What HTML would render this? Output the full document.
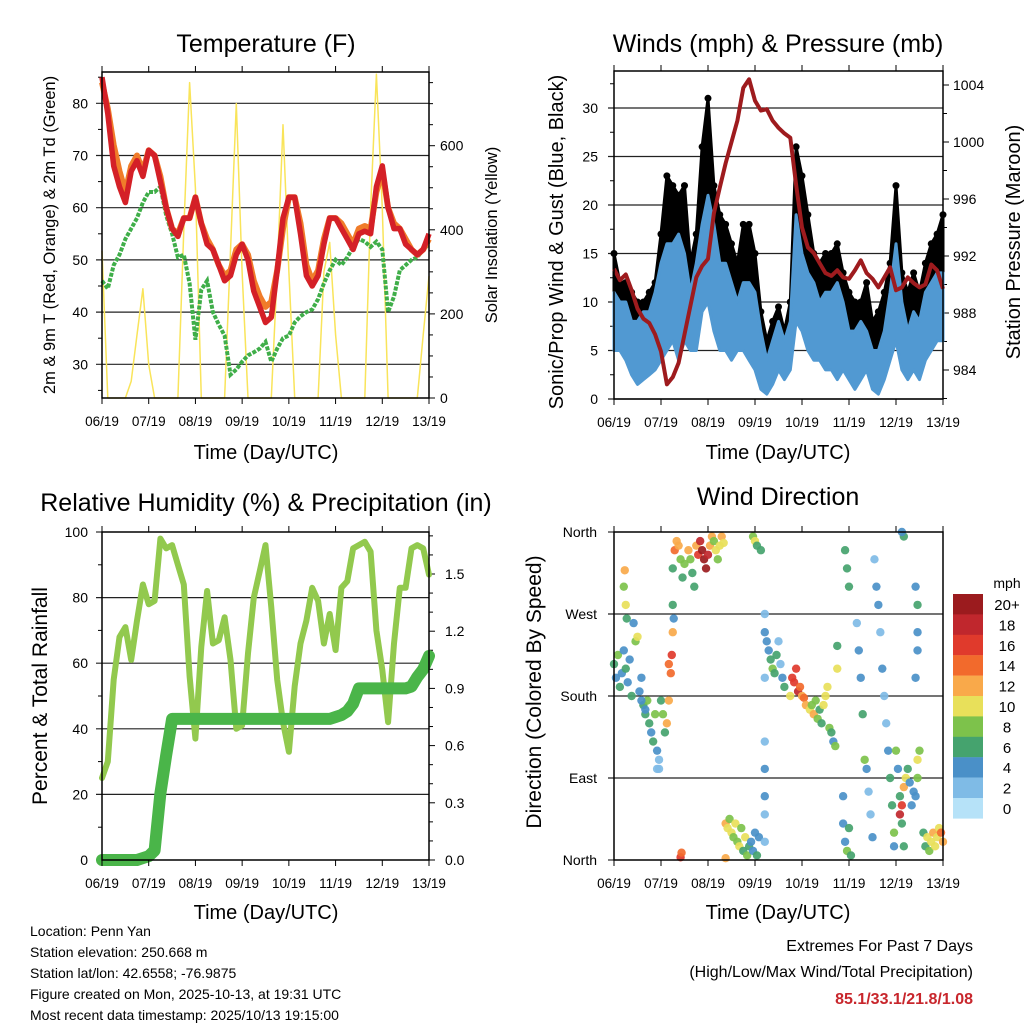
<!DOCTYPE html>
<html><head><meta charset="utf-8"><style>
html,body{margin:0;padding:0;background:#fff;}
svg{display:block;font-family:"Liberation Sans",sans-serif;}
</style></head><body>
<svg id="c" xmlns="http://www.w3.org/2000/svg" width="1024" height="1024" viewBox="0 0 1024 1024"></svg>
<script>
const dayLabels=['06/19','07/19','08/19','09/19','10/19','11/19','12/19','13/19'];
const tempRed=[85,78,68,64,61,67,69,66,71,70,65,60,56,54.5,58,58,62,57,53,52,49,46,47,51,53,50,44,41,38,39,48,58,62,62,55,47,45,47,53,58,58,56,54,52,55,55.5,55,64,68,60,56,56,53,52,51,52,55];
const tempOrange=[84,79,72,67,63,68,70,67,71,70,66,60,56,55,58,58,62,57,54,52,49,47,48,52,53,51,46,43,41,42,48,56,62,62,57,49,46,48,54,58,58,57,55,53,56,56.5,56,63,67,60,57,56,54,52,51,52,54];
const dewGreen=[46,44.5,49,51,54,56,58,61,63,63,64,58.5,55,50.5,51,45.5,34.7,44.3,46,40,37.6,35.5,28,29,30.5,31.7,32.3,33,34.3,30.5,33,35,35.5,38,39.2,40,40.5,42.5,45.5,48,50,49,50.5,52.5,54,53.5,52.5,53.5,52,40,43,48,49,50,50.5,52,53];
const solar=[350,0,0,0,0,40,150,260,80,0,0,0,0,0,400,750,500,0,0,0,0,0,350,700,300,0,0,0,0,0,300,650,300,0,0,0,0,0,300,370,150,0,0,0,0,0,450,770,450,0,0,0,0,0,0,150,290];
const windLow=[5,5,4,2.5,1.5,2,2.5,3,4,5,6,4,6,5,5,9,10,7,5,5,4,5,5,4,3,1,0.5,1.5,3,2,3,8,7,5,4,4,3,3,2,3,2,1,2,3,1,0.5,2,4,6,3,2,3,2,4,5,6,6];
const windHigh=[11,10,10,8,8,9,9,11,14,16,16,17,15,11,14,18,21,18,14,14,12,10,12,12,11,7,4,6,8,6,8,19,15,13,12,10,11,11,12,10,7,7,8,7,5,5,7,11,16,10,7,9,8,11,12,13,13];
const gustHigh=[15,12,12,11,10,10,11,12,17,23,22,21,22,14,17,26,31,22,19,18,16,14,18,18,15,9,6,8,9.5,7,10,26,23,19,15,14,15,15,16,13,11,10,10,12,8,9,11,14,22,13,11,13,11,14,16,17,19];
const pressure=[991.1,990.3,990.7,989.6,988.3,987.6,987.3,986.5,985.3,983,983.5,984.5,986.5,988.5,990.5,991.3,991.8,995,996.8,998.5,1000,1001.5,1003.8,1004.4,1002.9,1002.2,1002.3,1001.5,1001,1000.6,1000.3,997,994,992.6,992.2,991.5,990.8,990.6,991,990.5,990.4,991,991.7,990.8,990.4,989.8,990.5,991.2,989.6,989.8,990.5,990.1,989.8,990,991.4,991,989.7];
const rhPct=[25,30,55,68,71,61,73,84,78,79,98,95,96,90,84,56,37,65,82,66,67,74,61,40,41,63,80,88,96,77,55,42,33,53,66,73,83,79,66,75,64,83,85,95,96,97,94,70,58,42,66,83,83,95,96,95,87];
const rainIn=[0,0,0,0,0,0,0,0.01,0.02,0.05,0.35,0.55,0.74,0.74,0.74,0.74,0.74,0.74,0.74,0.74,0.74,0.74,0.74,0.74,0.74,0.74,0.74,0.74,0.74,0.74,0.74,0.74,0.74,0.74,0.74,0.74,0.74,0.74,0.74,0.74,0.75,0.76,0.78,0.82,0.9,0.9,0.9,0.9,0.9,0.9,0.9,0.9,0.9,0.91,0.96,1.0,1.07];
const dirHour=[0,1,2,3,4,5,6,7,8,9,10,11,12,13,14,15,16,17,5,6,6.5,5.5,14,16,18,19,20,21,22,23,24,25,26,27,28,22,23,28,29,29.5,30,30.5,30,30,31,32,33,34,35,36,38,39,40,41,42,43,44,45,46,47,48,49,50,51,52,53,54,55,56,34,34.5,57,57,58,59,60,61,62,63,64,65,66,67,68,69,70,71,72,73,74,71,72,73,75,77,77,77,77,77,77,77,77,78,79,80,81,82,83,84,85,86,87,90,91,92,93,94,95,96,97,98,100,101,102,103,104,105,106,107,108,109,110,111,112,113,114,114,117,118,119,120,121,117,118,119,120,124,125,126,127,128,129,130,131,132,133,134,135,136,137,138,139,140,141,142,143,143,144,145,146,147,148,148,147,146,147,148,149,150,151,152,153,154,155,155,156,154,155,155,155,154,158,159,160,161,162,163,164,165,166,167,168];
const dirDeg=[215,200,225,190,205,230,210,195,220,180,260,240,245,185,200,170,160,175,300,280,265,318,175,165,150,140,130,160,120,110,175,160,140,150,175,100,100,215,205,225,250,265,280,320,340,350,345,330,310,325,340,330,315,300,345,335,350,340,330,320,335,345,355,350,340,330,345,355,348,3,8,2,40,35,45,30,25,40,20,15,35,10,25,5,15,20,10,30,5,25,355,350,345,340,270,250,200,130,100,70,50,20,240,230,220,210,205,225,240,215,200,190,180,200,195,210,185,190,180,178,170,165,170,160,175,155,165,150,170,180,190,145,140,130,125,235,210,40,20,10,35,5,70,340,320,300,260,230,200,160,110,100,75,50,25,330,300,280,250,210,180,150,120,90,60,30,15,120,100,70,40,15,355,360,50,60,80,90,100,85,60,75,70,90,110,120,300,280,250,230,200,30,15,25,10,20,30,15,25,35,30,20];
const dirSpeed=[7,5,9,7,4,5,7,4,4,6,4,9,10,5,4,7,6,8,8,10,7,12,4,5,6,4,7,8,5,3,6,8,7,12,13,2,3,14,15,16,12,4,7,6,15,13,12,8,7,8,12,8,7,7,12,16,18,20,21,21,18,12,12,9,10,8,11,12,11,16,15,12,12,10,8,10,9,10,8,11,9,6,10,8,6,5,4,5,6,4,8,10,6,6,2,4,3,2,4,4,3,2,4,4,6,8,6,7,3,2,4,6,10,16,17,16,18,14,12,14,12,11,8,12,9,8,6,6,10,11,10,8,6,4,8,6,10,4,5,8,6,6,4,6,7,6,3,5,4,7,8,4,2,3,4,2,4,4,3,4,2,3,5,6,7,8,4,8,4,6,7,6,6,4,18,16,12,10,6,4,4,5,4,8,10,8,4,6,4,4,4,7,6,10,8,10,12,10,10,11,14,12];
const speedLabels=['20+','18','16','14','12','10','8','6','4','2','0'];
const speedColors=['#9b1b1e','#c0272d','#e03a2c','#f26a2c','#f9a94a','#e8e05a','#7dc24b','#45a36e','#4a90c8','#7fbbe6','#b6e2f8'];

const NS='http://www.w3.org/2000/svg';
const svg=document.getElementById('c');
function mk(tag,attrs,parent){const e=document.createElementNS(NS,tag);for(const k in attrs)e.setAttribute(k,attrs[k]);(parent||svg).appendChild(e);return e;}
function lin(d0,d1,r0,r1){return v=>r0+(v-d0)*(r1-r0)/(d1-d0);}
function txt(s,x,y,size,anchor,extra){const t=mk('text',Object.assign({x:x,y:y,'font-size':size,'text-anchor':anchor||'middle',fill:'#000'},extra||{}));t.textContent=s;return t;}
function pts(arr,fx,fy){return arr.map((v,i)=>fx(i).toFixed(1)+','+fy(v).toFixed(1)).join(' ');}

function frame(x0,y0,x1,y1,name){
  const r=mk('rect',{x:x0,y:y0,width:x1-x0,height:y1-y0,fill:'none',stroke:'#000','stroke-width':1.5});
  
  
}
function xAxis(x0,x1,y0,y1,name){
  const g=mk('g',{});
  
  
  const f=lin(0,7,x0,x1);
  dayLabels.forEach((d,i)=>{
    mk('line',{x1:f(i),y1:y0-6,x2:f(i),y2:y0,stroke:'#000','stroke-width':1},g);
    mk('line',{x1:f(i),y1:y1,x2:f(i),y2:y1+6,stroke:'#000','stroke-width':1},g);
    const t=txt(d,f(i),y1+28,13.5,'middle');
    
    
  });
}
function hgrid(y,x0,x1,ext){mk('line',{x1:x0-(ext||6),y1:y,x2:x1,y2:y,stroke:'#222','stroke-width':1.2});}
function ltick(y,x0,len){mk('line',{x1:x0-len,y1:y,x2:x0,y2:y,stroke:'#000','stroke-width':1});}
function rtick(y,x1,len){mk('line',{x1:x1,y1:y,x2:x1+len,y2:y,stroke:'#000','stroke-width':1});}

/* ---------- Panel 1: Temperature ---------- */
{
const X0=102,X1=429,Y0=72,Y1=398;
const xT=lin(0,56,X0,X1), yT=lin(30,80,364.3,103.3), yS=lin(0,600,398,145.7);
let t=txt('Temperature (F)',266,52,25);

for(let v=25;v<=85;v+=5){ if(v%10===0){hgrid(yT(v),X0,X1);const l=txt(String(v),88,yT(v)+5,14,'end');} else ltick(yT(v),X0,4);}
for(let v=0;v<=750;v+=50){ if(v%200===0){rtick(yS(v),X1,6);const l=txt(String(v),440,yS(v)+5,14,'start');} else rtick(yS(v),X1,4);}
const sol=mk('polyline',{points:pts(solar,xT,yS),fill:'none',stroke:'#f9e45a','stroke-width':1.5,'stroke-linejoin':'round'});

const dew=mk('polyline',{points:pts(dewGreen,xT,yT),fill:'none',stroke:'#3fae49','stroke-width':4,'stroke-dasharray':'4 1.5'});

const org=mk('polyline',{points:pts(tempOrange,xT,yT),fill:'none',stroke:'#f07c2a','stroke-width':6,'stroke-linejoin':'round'});

const red=mk('polyline',{points:pts(tempRed,xT,yT),fill:'none',stroke:'#d42027','stroke-width':5.5,'stroke-linejoin':'round'});

frame(X0,Y0,X1,Y1,'temperature-plot-frame');
xAxis(X0,X1,Y0,Y1,'temperature-x-axis');
t=txt('Time (Day/UTC)',266,459,20);
t=txt('2m & 9m T (Red, Orange) & 2m Td (Green)',0,0,16.5,'middle',{transform:'translate(55,235) rotate(-90)'});
t=txt('Solar Insolation (Yellow)',0,0,16.5,'middle',{transform:'translate(497,235) rotate(-90)'});
}

/* ---------- Panel 2: Winds & Pressure ---------- */
{
const X0=614,X1=943,Y0=71,Y1=399;
const xW=lin(0,56,X0,X1), yW=lin(0,30,399,108), yP=lin(984,1004,370,85);
let t=txt('Winds (mph) & Pressure (mb)',778,52,25);

for(let v=0;v<=32.5;v+=2.5){ if(v%5===0){hgrid(yW(v),X0,X1);const l=txt(String(v),598,yW(v)+5,14,'end');} else ltick(yW(v),X0,4);}
for(let p=982;p<=1005;p+=1){ if(p%4===0){rtick(yP(p),X1,6);const l=txt(String(p),953,yP(p)+5,14,'start');} else if(p%2===0) rtick(yP(p),X1,4);}
const gustPoly=windHigh.map((v,i)=>xW(i).toFixed(1)+','+yW(v).toFixed(1)).concat(gustHigh.map((v,i)=>[i,v]).reverse().map(a=>xW(a[0]).toFixed(1)+','+yW(a[1]).toFixed(1))).join(' ');
const gb=mk('polygon',{points:gustPoly,fill:'#000',stroke:'#000','stroke-width':3,'stroke-linejoin':'round'});

gustHigh.forEach((v,i)=>{const c=mk('circle',{cx:xW(i),cy:yW(v),r:3.5,fill:'#000'});
});
const windPoly=windLow.map((v,i)=>xW(i).toFixed(1)+','+yW(v).toFixed(1)).concat(windHigh.map((v,i)=>[i,v]).reverse().map(a=>xW(a[0]).toFixed(1)+','+yW(a[1]).toFixed(1))).join(' ');
const wb=mk('polygon',{points:windPoly,fill:'#5199d2',stroke:'#5199d2','stroke-width':3,'stroke-linejoin':'round'});

const pl=mk('polyline',{points:pts(pressure,xW,yP),fill:'none',stroke:'#9e1b1e','stroke-width':4,'stroke-linejoin':'round'});

frame(X0,Y0,X1,Y1,'winds-plot-frame');
xAxis(X0,X1,Y0,Y1,'winds-x-axis');
t=txt('Time (Day/UTC)',778,459,20);
t=txt('Sonic/Prop Wind & Gust (Blue, Black)',0,0,20,'middle',{transform:'translate(563,242) rotate(-90)'});
t=txt('Station Pressure (Maroon)',0,0,20,'middle',{transform:'translate(1020,242) rotate(-90)'});
}

/* ---------- Panel 3: RH & Precip ---------- */
{
const X0=102,X1=429,Y0=532,Y1=860;
const xR=lin(0,56,X0,X1), yR=lin(0,100,860,532), yIn=lin(0,1.5,860,574);
let t=txt('Relative Humidity (%) & Precipitation (in)',266,511,25);

for(let v=0;v<=100;v+=10){ if(v%20===0){ if(v>0&&v<100) hgrid(yR(v),X0,X1); else ltick(yR(v),X0,6); const l=txt(String(v),88,yR(v)+5,14,'end');} else ltick(yR(v),X0,4);}
for(let k=0;k<=17;k++){const v=k/10;if(k%3===0){rtick(yIn(v),X1,6);const l=txt(v.toFixed(1),445,yIn(v)+5,14,'start');} else rtick(yIn(v),X1,4);}
const rh=mk('polyline',{points:pts(rhPct,xR,yR),fill:'none',stroke:'#92c94e','stroke-width':6,'stroke-linejoin':'round','stroke-linecap':'round'});

const rn=mk('polyline',{points:pts(rainIn,xR,yIn),fill:'none',stroke:'#4ab549','stroke-width':12,'stroke-linejoin':'round','stroke-linecap':'round'});

frame(X0,Y0,X1,Y1,'humidity-plot-frame');
xAxis(X0,X1,Y0,Y1,'humidity-x-axis');
t=txt('Time (Day/UTC)',266,919,20);
t=txt('Percent & Total Rainfall',0,0,21,'middle',{transform:'translate(47,696) rotate(-90)'});
}

/* ---------- Panel 4: Wind direction ---------- */
{
const X0=614,X1=943,Y0=532,Y1=860;
const xH=lin(0,168,X0,X1), yD=lin(0,360,860,532);
let t=txt('Wind Direction',778,505,25);

const dirNames=['North','East','South','West','North'];
dirNames.forEach((n,i)=>{const y=yD(i*90); if(i>0&&i<4) hgrid(y,X0,X1); else ltick(y,X0,6);
const l=txt(n,597,y+5,14,'end');});
dirHour.forEach((h,i)=>{const bin=Math.min(10,Math.floor(dirSpeed[i]/2));
const c=mk('circle',{cx:xH(h),cy:yD(dirDeg[i]),r:4.2,fill:speedColors[10-bin],opacity:0.92});
});
frame(X0,Y0,X1,Y1,'direction-plot-frame');
xAxis(X0,X1,Y0,Y1,'direction-x-axis');
t=txt('Time (Day/UTC)',778,919,20);
t=txt('Direction (Colored By Speed)',0,0,21,'middle',{transform:'translate(541,692) rotate(-90)'});
const lg=mk('g',{});

t=txt('mph',1007,588,14,'middle');
speedLabels.forEach((s,i)=>{const y=594+i*20.4;
const r=mk('rect',{x:953,y:y,width:30,height:20.6,fill:speedColors[i]},lg);

const l=txt(s,1007,y+16,15,'middle');});
}

/* ---------- Footer text ---------- */
const info=['Location: Penn Yan','Station elevation: 250.668 m','Station lat/lon: 42.6558; -76.9875','Figure created on Mon, 2025-10-13, at 19:31 UTC','Most recent data timestamp: 2025/10/13 19:15:00'];
info.forEach((s,i)=>{const l=txt(s,30,936+i*21,14,'start');});
let e=txt('Extremes For Past 7 Days',973,951,16,'end');
e=txt('(High/Low/Max Wind/Total Precipitation)',973,977,16,'end');
e=txt('85.1/33.1/21.8/1.08',973,1004,16,'end',{fill:'#c8262c','font-weight':'bold'});
</script>
</body></html>
